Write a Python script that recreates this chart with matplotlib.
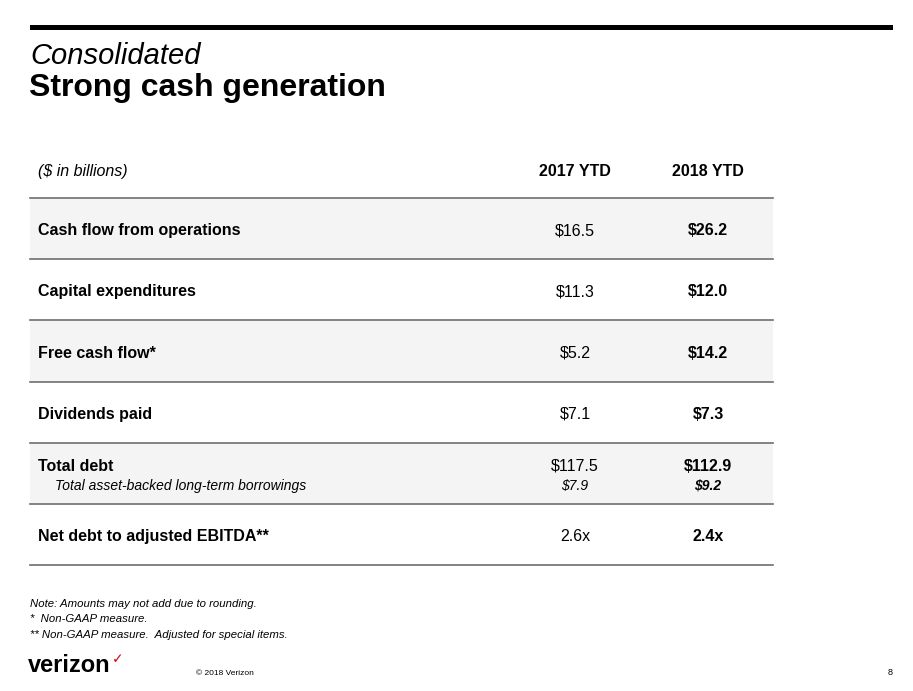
import matplotlib.pyplot as plt
from matplotlib.patches import Rectangle

W, H = 913, 691

unit_label = "($ in billions)"
years = ["2017 YTD", "2018 YTD"]
row_labels = [
    "Cash flow from operations",
    "Capital expenditures",
    "Free cash flow*",
    "Dividends paid",
    "Total debt",
    "Net debt to adjusted EBITDA**",
]
values_2017 = ["$16.5", "$11.3", "$5.2", "$7.1", "$117.5", "2.6x"]
values_2018 = ["$26.2", "$12.0", "$14.2", "$7.3", "$112.9", "2.4x"]
sub_label = "Total asset-backed long-term borrowings"
sub_2017 = "$7.9"
sub_2018 = "$9.2"
notes = [
    "Note: Amounts may not add due to rounding.",
    "*  Non-GAAP measure.",
    "** Non-GAAP measure.  Adjusted for special items.",
]

plt.rcParams["font.family"] = ["Liberation Sans", "DejaVu Sans"]

fig = plt.figure(figsize=(W / 100, H / 100), dpi=100)
ax = fig.add_axes([0, 0, 1, 1])
ax.set_xlim(0, W)
ax.set_ylim(H, 0)
ax.axis("off")

# top bar and title
ax.add_patch(Rectangle((30, 24.5), 863, 5, color="black", lw=0))
ax.text(30, 64, "Consolidated", fontsize=21, style="italic", va="baseline")
ax.text(29, 96, "Strong cash generation", fontsize=23, weight="bold", va="baseline")

# table
x0, x1 = 30, 773
col_x = [575, 708]
row_top = 198
row_h = 61.2
fs = 11.5

ax.text(38, 176, unit_label, fontsize=fs, style="italic", va="baseline")
for cx, yr in zip(col_x, years):
    ax.text(cx, 176, yr, fontsize=fs, weight="bold", ha="center", va="baseline")

for i, label in enumerate(row_labels):
    top = row_top + i * row_h
    if i % 2 == 0:
        ax.add_patch(Rectangle((x0, top), x1 - x0, row_h, color="#f4f4f4", lw=0))
    ax.plot([x0, x1], [top, top], color="#6e6e6e", lw=1.2)
    if label == "Total debt":
        y = top + 28
        y2 = top + 47
        ax.text(55, y2, sub_label, fontsize=10, style="italic", va="baseline")
        ax.text(col_x[0], y2, sub_2017, fontsize=10, style="italic", ha="center", va="baseline")
        ax.text(col_x[1], y2, sub_2018, fontsize=10, style="italic", weight="bold",
                ha="center", va="baseline")
    else:
        y = top + row_h / 2 + 6.5
    ax.text(38, y, label, fontsize=fs, weight="bold", va="baseline")
    ax.text(col_x[0], y, values_2017[i], fontsize=fs, ha="center", va="baseline")
    ax.text(col_x[1], y, values_2018[i], fontsize=fs, weight="bold", ha="center", va="baseline")
bottom = row_top + len(row_labels) * row_h
ax.plot([x0, x1], [bottom, bottom], color="#6e6e6e", lw=1.2)

# footnotes
for k, note in enumerate(notes):
    ax.text(30, 607 + k * 15.5, note, fontsize=8.2, style="italic", va="baseline")

# footer
ax.text(28, 672, "verizon", fontsize=17, weight="bold", va="baseline")
ax.text(112, 663, "\u2713", fontsize=10, color="#cd040b", va="baseline",
        family=["DejaVu Sans"])
ax.text(196, 675, "\u00a9 2018 Verizon", fontsize=6, va="baseline")
ax.text(893, 675, "8", fontsize=6.5, ha="right", va="baseline")

fig.savefig("out.png", dpi=100)
